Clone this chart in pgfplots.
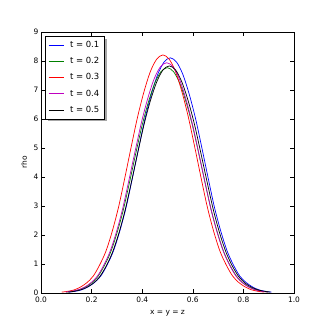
\documentclass[border=0pt]{standalone}
\usepackage{pgfplots}
\pgfplotsset{compat=1.18}
\usepackage{fontspec}
\setmainfont{DejaVu Sans}

\definecolor{mplgreen}{rgb}{0,0.5,0}
\definecolor{mplpurple}{rgb}{0.75,0,0.75}

\begin{document}
\begin{tikzpicture}[x=1bp,y=1bp]
    \useasboundingbox (0,0) rectangle (327,327);
    \begin{axis}[
        at={(41bp,34bp)}, anchor=south west,
        scale only axis,
        width=253bp, height=261bp,
        xmin=0, xmax=1, ymin=0, ymax=9,
        xtick={0,0.2,0.4,0.6,0.8,1.0},
        ytick={0,1,2,3,4,5,6,7,8,9},
        xticklabel style={/pgf/number format/fixed, /pgf/number format/fixed zerofill, /pgf/number format/precision=1},
        /pgf/number format/assume math mode=true,
        tick align=inside,
        major tick length=4bp,
        tick style={black, line width=0.5pt},
        axis line style={line width=0.6pt},
        ticklabel style={font=\fontsize{7.5}{8}\selectfont},
        yticklabel style={xshift=1bp},
        xlabel={x = y = z},
        ylabel={rho},
        label style={font=\fontsize{7.5}{8}\selectfont},
        xlabel style={yshift=-1bp},
        legend cell align=left,
        legend style={
            at={(rel axis cs:0.016,0.985)}, anchor=north west,
            font=\fontsize{8.5}{10}\selectfont,
            draw=black, fill=white,
            row sep=4.5bp, inner xsep=3bp, inner ysep=3bp,
        },
        legend image code/.code={\draw[#1, line width=0.8pt] (0bp,0bp) -- (15bp,0bp);},
        every axis plot/.append style={line width=0.7pt},
    ]
        % legend shadow, drawn first so that the legend covers it
        \fill[gray!70] (rel axis cs:0.026,0.659) rectangle (rel axis cs:0.261,0.975);
        % t = 0.1
        \addplot[blue, smooth] coordinates {
            (0.111,0.03) (0.136,0.06) (0.161,0.11) (0.186,0.21) (0.211,0.36)
            (0.236,0.58) (0.261,0.96) (0.286,1.44) (0.311,2.12) (0.336,2.94)
            (0.361,3.95) (0.386,5.00) (0.411,6.01) (0.436,6.85) (0.461,7.53)
            (0.486,7.96) (0.511,8.11) (0.536,7.96) (0.561,7.53) (0.586,6.85)
            (0.611,6.01) (0.636,5.00) (0.661,3.95) (0.686,2.94) (0.711,2.12)
            (0.736,1.44) (0.761,0.96) (0.786,0.58) (0.811,0.36) (0.836,0.21)
            (0.861,0.11) (0.886,0.06) (0.911,0.03)
        };
        \addlegendentry{\hspace{4bp}t = 0.1}
        % t = 0.2
        \addplot[mplgreen, smooth] coordinates {
            (0.099,0.03) (0.124,0.06) (0.149,0.11) (0.174,0.20) (0.199,0.34)
            (0.224,0.56) (0.249,0.92) (0.274,1.38) (0.299,2.03) (0.324,2.82)
            (0.349,3.78) (0.374,4.79) (0.399,5.76) (0.424,6.57) (0.449,7.22)
            (0.474,7.63) (0.499,7.77) (0.524,7.63) (0.549,7.22) (0.574,6.57)
            (0.599,5.76) (0.624,4.79) (0.649,3.78) (0.674,2.82) (0.699,2.03)
            (0.724,1.38) (0.749,0.92) (0.774,0.56) (0.799,0.34) (0.824,0.20)
            (0.849,0.11) (0.874,0.06) (0.899,0.03)
        };
        \addlegendentry{\hspace{4bp}t = 0.2}
        % t = 0.3
        \addplot[red, smooth] coordinates {
            (0.082,0.03) (0.107,0.06) (0.132,0.11) (0.157,0.21) (0.182,0.36)
            (0.207,0.59) (0.232,0.97) (0.257,1.45) (0.282,2.14) (0.307,2.98)
            (0.332,4.00) (0.357,5.06) (0.382,6.08) (0.407,6.94) (0.432,7.63)
            (0.457,8.06) (0.482,8.21) (0.507,8.06) (0.532,7.63) (0.557,6.94)
            (0.582,6.08) (0.607,5.06) (0.632,4.00) (0.657,2.98) (0.682,2.14)
            (0.707,1.45) (0.732,0.97) (0.757,0.59) (0.782,0.36) (0.807,0.21)
            (0.832,0.11) (0.857,0.06) (0.882,0.03)
        };
        \addlegendentry{\hspace{4bp}t = 0.3}
        % t = 0.4
        \addplot[mplpurple, smooth] coordinates {
            (0.097,0.03) (0.122,0.06) (0.147,0.11) (0.172,0.20) (0.197,0.35)
            (0.222,0.57) (0.247,0.94) (0.272,1.41) (0.297,2.07) (0.322,2.88)
            (0.347,3.87) (0.372,4.89) (0.397,5.88) (0.422,6.71) (0.447,7.38)
            (0.472,7.80) (0.497,7.94) (0.522,7.80) (0.547,7.38) (0.572,6.71)
            (0.597,5.88) (0.622,4.89) (0.647,3.87) (0.672,2.88) (0.697,2.07)
            (0.722,1.41) (0.747,0.94) (0.772,0.57) (0.797,0.35) (0.822,0.20)
            (0.847,0.11) (0.872,0.06) (0.897,0.03)
        };
        \addlegendentry{\hspace{4bp}t = 0.4}
        % t = 0.5
        \addplot[black, smooth] coordinates {
            (0.107,0.03) (0.132,0.06) (0.157,0.11) (0.182,0.20) (0.207,0.34)
            (0.232,0.56) (0.257,0.92) (0.282,1.39) (0.307,2.04) (0.332,2.84)
            (0.357,3.81) (0.382,4.82) (0.407,5.80) (0.432,6.62) (0.457,7.27)
            (0.482,7.69) (0.507,7.83) (0.532,7.69) (0.557,7.27) (0.582,6.62)
            (0.607,5.80) (0.632,4.82) (0.657,3.81) (0.682,2.84) (0.707,2.04)
            (0.732,1.39) (0.757,0.92) (0.782,0.56) (0.807,0.34) (0.832,0.20)
            (0.857,0.11) (0.882,0.06) (0.907,0.03)
        };
        \addlegendentry{\hspace{4bp}t = 0.5}
    \end{axis}
\end{tikzpicture}
\end{document}
